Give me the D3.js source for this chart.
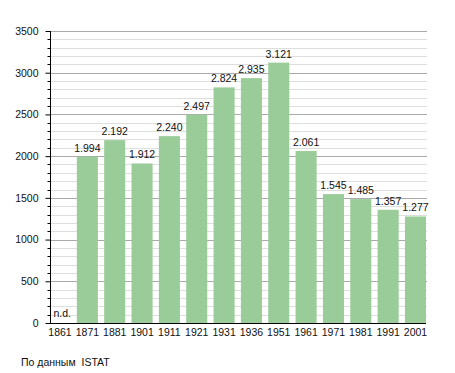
<!DOCTYPE html>
<html>
  <head>
    <meta charset="utf-8">
    <title>Popolazione</title>
    <script src="https://d3js.org/d3.v7.min.js"></script>
    <style>
      body { margin: 0; background: #fff; }
      text { font-family: "Liberation Sans", Arial, sans-serif; white-space: pre; }
    </style>
  </head>
  <body>
    <script type="text/javascript">
      var years = ['1861', '1871', '1881', '1901', '1911', '1921', '1931', '1936', '1951', '1961', '1971', '1981', '1991', '2001'];
      var population = [null, 1994, 2192, 1912, 2240, 2497, 2824, 2935, 3121, 2061, 1545, 1485, 1357, 1277];
      var valueLabels = ['n.d.', '1.994', '2.192', '1.912', '2.240', '2.497', '2.824', '2.935', '3.121', '2.061', '1.545', '1.485', '1.357', '1.277'];
      var majorTicks = [0, 500, 1000, 1500, 2000, 2500, 3000, 3500];
      var sourceText = 'По данным  ISTAT';

      var svg = d3.select('body')
                  .append('svg')
                  .attr('width', 455)
                  .attr('height', 373);

      var x = d3.scaleBand()
                .domain(years)
                .range([49.5, 426])
                .paddingInner(0.23)
                .paddingOuter(0);

      var y = d3.scaleLinear()
                .domain([0, 3500])
                .range([323, 31]);

      // griglia: minori ogni 100, maggiori ogni 500
      var minor = d3.range(100, 3501, 100).filter(function (d) { return d % 500 != 0; });
      svg.append('g').selectAll('line')
         .data(minor)
         .enter().append('line')
           .attr('x1', 50).attr('x2', 427)
           .attr('y1', function (d) { return Math.round(y(d)) + 0.5; })
           .attr('y2', function (d) { return Math.round(y(d)) + 0.5; })
           .attr('stroke', '#dedede');
      svg.append('g').selectAll('line')
         .data(majorTicks.slice(1))
         .enter().append('line')
           .attr('x1', 50).attr('x2', 427)
           .attr('y1', function (d) { return Math.round(y(d)) + 0.5; })
           .attr('y2', function (d) { return Math.round(y(d)) + 0.5; })
           .attr('stroke', '#aaaaaa');

      // barre
      svg.append('g').selectAll('rect')
         .data(years.filter(function (d, i) { return population[i] != null; }))
         .enter().append('rect')
           .attr('x', function (d) { return x(d); })
           .attr('width', x.bandwidth())
           .attr('y', function (d) { return y(population[years.indexOf(d)]); })
           .attr('height', function (d) { return y(0) - y(population[years.indexOf(d)]); })
           .attr('fill', '#99cc99');

      // etichette dei valori
      svg.append('g').selectAll('text')
         .data(years)
         .enter().append('text')
           .attr('x', function (d, i) { return population[i] == null ? x(d) + 4 : x(d) + x.bandwidth() / 2; })
           .attr('y', function (d, i) { return population[i] == null ? y(0) - 6 : y(population[i]) - 5; })
           .attr('text-anchor', function (d, i) { return population[i] == null ? 'start' : 'middle'; })
           .attr('font-size', 10.5)
           .attr('fill', '#111')
           .text(function (d, i) { return valueLabels[i]; });

      // asse y con tacche minori
      var yAxis = svg.append('g').attr('transform', 'translate(50.5, 0)');
      yAxis.append('g').selectAll('line')
           .data(minor)
           .enter().append('line')
             .attr('x1', -3).attr('x2', 0)
             .attr('y1', function (d) { return Math.round(y(d)) + 0.5; })
             .attr('y2', function (d) { return Math.round(y(d)) + 0.5; })
             .attr('stroke', '#000');
      yAxis.call(d3.axisLeft(y).tickValues(majorTicks).tickFormat(d3.format('d'))
                 .tickSize(5).tickPadding(7).tickSizeOuter(0));
      yAxis.select('.domain').attr('d', 'M0,' + y(3500) + 'V' + (y(0) + 0.5));
      yAxis.selectAll('text').attr('font-size', 10.5).attr('fill', '#111').style('font-family', '"Liberation Sans", Arial, sans-serif');
      yAxis.selectAll('.tick line').attr('stroke', '#000');

      // asse x
      var xAxis = svg.append('g').attr('transform', 'translate(0, ' + (y(0) + 0.5) + ')');
      xAxis.call(d3.axisBottom(x).tickSize(0).tickPadding(5).tickSizeOuter(0)
                .tickFormat(function (d) { return d; }));
      xAxis.selectAll('.tick').attr('transform', function (d) { return 'translate(' + (x(d) + x.bandwidth() / 2) + ',0)'; });
      xAxis.select('.domain').attr('d', 'M50,0H426');
      xAxis.selectAll('text').attr('font-size', 10.5).attr('fill', '#111').style('font-family', '"Liberation Sans", Arial, sans-serif');

      svg.append('text')
         .attr('x', 21)
         .attr('y', 366)
         .attr('font-size', 10.5)
         .attr('fill', '#111')
         .text(sourceText);
    </script>
  </body>
</html>
